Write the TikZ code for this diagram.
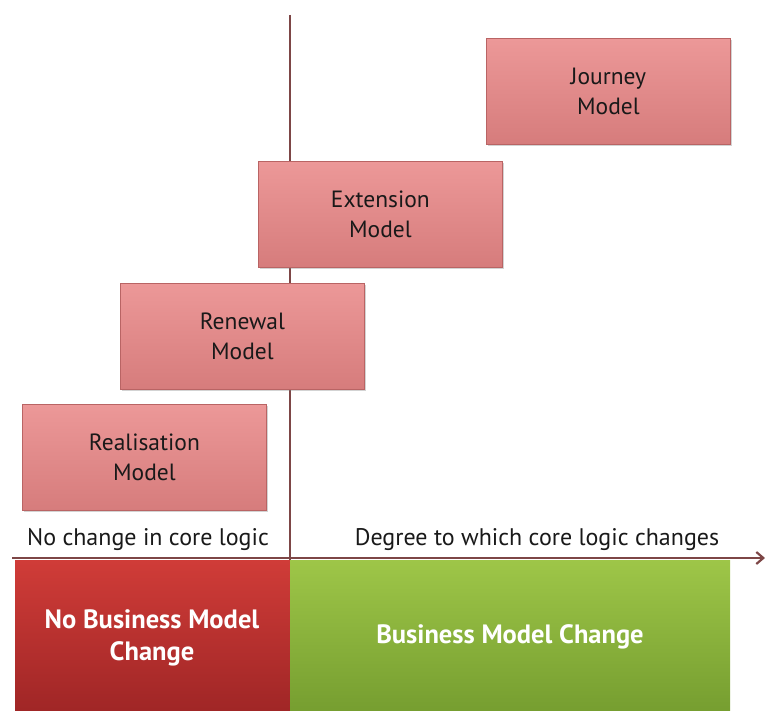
\documentclass[tikz,border=0pt]{standalone}
\usepackage{fontspec}
\setmainfont{PT Sans}
\usetikzlibrary{arrows.meta,shadows}
\definecolor{axiscol}{RGB}{125,70,70}
\definecolor{boxtop}{RGB}{236,152,152}
\definecolor{boxbot}{RGB}{214,124,124}
\definecolor{boxline}{RGB}{185,100,100}
\definecolor{redtop}{RGB}{208,60,56}
\definecolor{redbot}{RGB}{160,38,38}
\definecolor{greentop}{RGB}{158,198,72}
\definecolor{greenbot}{RGB}{118,158,48}
\definecolor{txt}{RGB}{25,25,25}
\tikzset{
  modelbox/.style={draw=boxline, line width=0.8pt, top color=boxtop, bottom color=boxbot,
    minimum width=244pt, minimum height=106pt, inner sep=0pt, align=center,
    font=\fontsize{23.5}{30}\selectfont, text=txt, anchor=north west,
    drop shadow={shadow xshift=1.5pt, shadow yshift=-1.5pt, opacity=0.35}},
  axislabel/.style={font=\fontsize{24}{28}\selectfont, text=txt},
  bandtext/.style={font=\bfseries\fontsize{26.5}{32}\selectfont, text=white, align=center},
  axisline/.style={draw=axiscol, line width=2.2pt}
}
\begin{document}
\begin{tikzpicture}[x=1pt,y=-1pt]
\useasboundingbox (0,0) rectangle (765,711);
% bottom bands
\path[top color=redtop, bottom color=redbot] (15,560) rectangle (290,711);
\path[top color=greentop, bottom color=greenbot] (290,560) rectangle (730,711);
\node[bandtext] (nobmc) at (152,638) {No Business Model\\Change};
\node[bandtext] (bmc) at (510,637) {Business Model Change};
% axes
\coordinate (vtop) at (290,15);
\coordinate (vbot) at (290,560);
\coordinate (hleft) at (12,558);
\coordinate (hright) at (765,558);
\draw[axisline] (vtop) -- (vbot);
\draw[axisline, -{Straight Barb[length=7pt,width=12pt]}] (hleft) -- (hright);
% axis labels
\node[axislabel] (nochange) at (148,540) {No change in core logic};
\node[axislabel] (degree) at (537,540) {Degree to which core logic changes};
% model boxes
\node[modelbox] (journey) at (486,38) {Journey\\Model};
\node[modelbox] (extension) at (258,161) {Extension\\Model};
\node[modelbox] (renewal) at (120,283) {Renewal\\Model};
\node[modelbox] (realisation) at (22,404) {Realisation\\Model};
\end{tikzpicture}
\end{document}
